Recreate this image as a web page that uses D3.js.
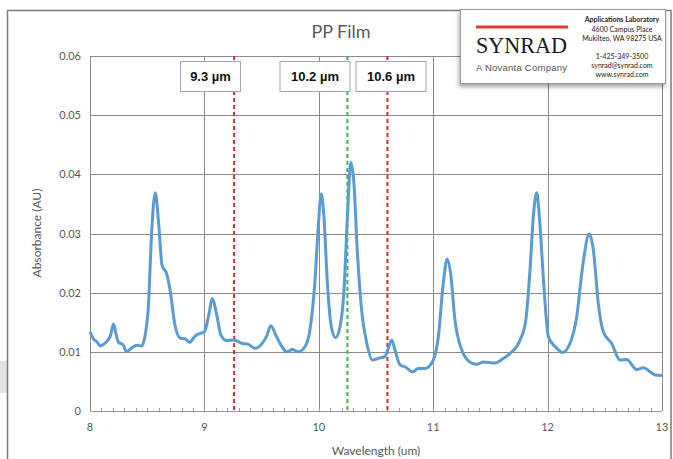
<!DOCTYPE html>
<html><head><meta charset="utf-8">
<script src="https://cdn.jsdelivr.net/npm/d3@7"></script>
<style>body{margin:0;background:#fff;}svg{display:block;font-family:Lato,"Open Sans",sans-serif;}</style>
</head><body><svg id="c" width="673" height="459"></svg>
<script>
const wavelength = [8.00,8.03,8.06,8.09,8.12,8.15,8.18,8.205,8.225,8.25,8.29,8.32,8.36,8.41,8.45,8.48,8.51,8.54,8.57,8.60,8.63,8.67,8.70,8.74,8.79,8.83,8.87,8.92,8.96,9.00,9.035,9.07,9.105,9.145,9.195,9.26,9.33,9.38,9.44,9.50,9.545,9.58,9.63,9.68,9.72,9.77,9.82,9.88,9.92,9.965,9.995,10.022,10.045,10.075,10.11,10.147,10.185,10.22,10.25,10.28,10.307,10.336,10.374,10.42,10.47,10.52,10.578,10.607,10.637,10.666,10.71,10.76,10.82,10.87,10.93,11.00,11.045,11.088,11.123,11.152,11.19,11.25,11.32,11.38,11.44,11.54,11.60,11.67,11.76,11.81,11.846,11.875,11.905,11.93,11.97,12.006,12.065,12.132,12.195,12.254,12.306,12.364,12.40,12.443,12.487,12.56,12.633,12.69,12.78,12.836,12.94,13.00];
const absorbance = [0.0134,0.0122,0.0117,0.0110,0.0113,0.0118,0.0128,0.0147,0.0132,0.0116,0.0112,0.0100,0.0106,0.0111,0.0110,0.0126,0.0176,0.0306,0.0369,0.0317,0.0246,0.0232,0.0204,0.0148,0.0123,0.0122,0.0116,0.0127,0.0131,0.0134,0.0159,0.0190,0.0165,0.0128,0.0119,0.0120,0.0114,0.0113,0.0106,0.0113,0.0127,0.0144,0.0126,0.0108,0.0100,0.0104,0.0100,0.0109,0.0134,0.0216,0.0311,0.0367,0.0328,0.0216,0.0142,0.0124,0.0142,0.0204,0.0328,0.0420,0.0385,0.0272,0.0171,0.0114,0.0086,0.0089,0.0092,0.0106,0.0120,0.0103,0.0078,0.0074,0.0066,0.0072,0.0072,0.0086,0.0126,0.0216,0.0257,0.0233,0.0154,0.0103,0.0083,0.0079,0.0083,0.0081,0.0087,0.0097,0.0120,0.0154,0.0238,0.0328,0.0369,0.0323,0.0204,0.0126,0.0109,0.0099,0.0114,0.0159,0.0244,0.0299,0.0272,0.0182,0.0134,0.0114,0.0086,0.0087,0.0070,0.0073,0.0061,0.0060];
const xTicks = [8,9,10,11,12,13];
const yTicks = [0,0.01,0.02,0.03,0.04,0.05,0.06];
const markerPos = [9.26,10.25,10.6];
const markerColors = ["#D42A2A","#3DB54A","#D42A2A"];
const markerLabels = ["9.3 µm","10.2 µm","10.6 µm"];
const labelCenters = [210.5,315,391];
const title = "PP Film";
const xTitle = "Wavelength (um)";
const yTitle = "Absorbance (AU)";
const logoLines = ["Applications Laboratory","4600 Campus Place","Mukilteo, WA 98275 USA","","1-425-349-3500","synrad@synrad.com","www.synrad.com"];

const svg = d3.select("#c");
const x = d3.scaleLinear().domain([8,13]).range([90,662]);
const y = d3.scaleLinear().domain([0,0.06]).range([411,56]);

// outer frame and side tab
svg.append("rect").attr("x",0).attr("y",361).attr("width",7).attr("height",32).attr("fill","#e3e3e3");
svg.append("rect").attr("x",7.5).attr("y",10.5).attr("width",663.5).attr("height",460).attr("fill","none").attr("stroke","#7a7a7a").attr("stroke-width",1.5);

// title
svg.append("text").attr("x",341).attr("y",38).attr("text-anchor","middle").attr("font-size",18).attr("fill","#595959").text(title);

// gridlines
svg.append("g").selectAll("line").data(yTicks.slice(1)).join("line")
  .attr("x1",x(8)).attr("x2",x(13)).attr("y1",d=>Math.round(y(d))+0.5).attr("y2",d=>Math.round(y(d))+0.5)
  .attr("stroke","#8a8a8a").attr("stroke-width",1);
svg.append("g").selectAll("line").data(xTicks.slice(1)).join("line")
  .attr("x1",d=>Math.round(x(d))+0.5).attr("x2",d=>Math.round(x(d))+0.5).attr("y1",y(0.06)).attr("y2",y(0))
  .attr("stroke","#8a8a8a").attr("stroke-width",1);

// axes lines
svg.append("line").attr("x1",90.5).attr("x2",90.5).attr("y1",y(0.06)).attr("y2",y(0)).attr("stroke","#8a8a8a");
svg.append("line").attr("x1",x(8)).attr("x2",x(13)).attr("y1",411.5).attr("y2",411.5).attr("stroke","#9a9a9a");
// minor ticks
svg.append("g").selectAll("line").data(d3.range(81,130).map(d=>d/10)).join("line")
  .attr("x1",d=>Math.round(x(d))+0.5).attr("x2",d=>Math.round(x(d))+0.5).attr("y1",408).attr("y2",411)
  .attr("stroke","#9a9a9a");

// tick labels
svg.append("g").selectAll("text").data(yTicks).join("text")
  .attr("x",81).attr("y",d=>y(d)+4).attr("text-anchor","end").attr("font-size",11).attr("fill","#595959")
  .text(d=>d===0?"0":d.toFixed(2));
svg.append("g").selectAll("text").data(xTicks).join("text")
  .attr("x",d=>x(d)).attr("y",431).attr("text-anchor","middle").attr("font-size",11).attr("fill","#595959")
  .text(d=>d);

// axis titles
svg.append("text").attr("x",376).attr("y",455).attr("text-anchor","middle").attr("font-size",12).attr("fill","#595959").text(xTitle);
svg.append("text").attr("transform","translate(41,233) rotate(-90)").attr("text-anchor","middle").attr("font-size",12).attr("fill","#595959").text(yTitle);

// marker lines
svg.append("g").selectAll("line").data(markerPos).join("line")
  .attr("x1",d=>x(d)).attr("x2",d=>x(d)).attr("y1",y(0.06)).attr("y2",y(0))
  .attr("stroke",(d,i)=>markerColors[i]).attr("stroke-width",2).attr("stroke-dasharray","4,3");

// spectrum
const pts = wavelength.map((w,i)=>[w,absorbance[i]]);
svg.append("path").datum(pts)
  .attr("d",d3.line().x(d=>x(d[0])).y(d=>y(d[1])).curve(d3.curveMonotoneX))
  .attr("fill","none").attr("stroke","#5B9BD5").attr("stroke-width",3).attr("stroke-linejoin","round");

// marker labels
const lw = [60,70,70];
markerLabels.forEach((t,i)=>{
  const cx = labelCenters[i];
  svg.append("rect").attr("x",cx-lw[i]/2).attr("y",61.5).attr("width",lw[i]).attr("height",30).attr("fill","#fff").attr("stroke","#a6a6a6");
  svg.append("text").attr("x",cx).attr("y",81).attr("text-anchor","middle").attr("font-size",13).attr("font-weight","bold")
    .attr("font-family","'Liberation Sans',Arial,sans-serif").attr("fill","#111").text(t);
});

// logo box
const defs = svg.append("defs");
const f = defs.append("filter").attr("id","sh").attr("x","-10%").attr("y","-10%").attr("width","130%").attr("height","140%");
f.append("feDropShadow").attr("dx",-1).attr("dy",3).attr("stdDeviation",2).attr("flood-color","#000").attr("flood-opacity",0.35);
svg.append("rect").attr("x",460.5).attr("y",9.5).attr("width",205).attr("height",74).attr("fill","#fff").attr("stroke","#9a9a9a").attr("filter","url(#sh)");
svg.append("line").attr("x1",476).attr("x2",568).attr("y1",27).attr("y2",27).attr("stroke","#E03C31").attr("stroke-width",3);
svg.append("text").attr("x",476).attr("y",53).attr("font-family","'Liberation Serif','DejaVu Serif',serif").attr("font-size",24)
  .attr("textLength",91).attr("lengthAdjust","spacingAndGlyphs").attr("fill","#1a1a1a").text("SYNRAD");
svg.append("text").attr("x",476).attr("y",71).attr("font-family","'Liberation Sans',Arial,sans-serif").attr("font-size",9.5)
  .attr("textLength",91).attr("fill","#555").text("A Novanta Company");
const lineY = [22,32,41,50,59,68,77];
logoLines.forEach((t,i)=>{
  if(!t) return;
  svg.append("text").attr("x",622).attr("y",lineY[i]).attr("text-anchor","middle").attr("font-size",7)
    .attr("font-weight",i===0?"bold":"normal").attr("fill","#222").text(t);
});
</script></body></html>
